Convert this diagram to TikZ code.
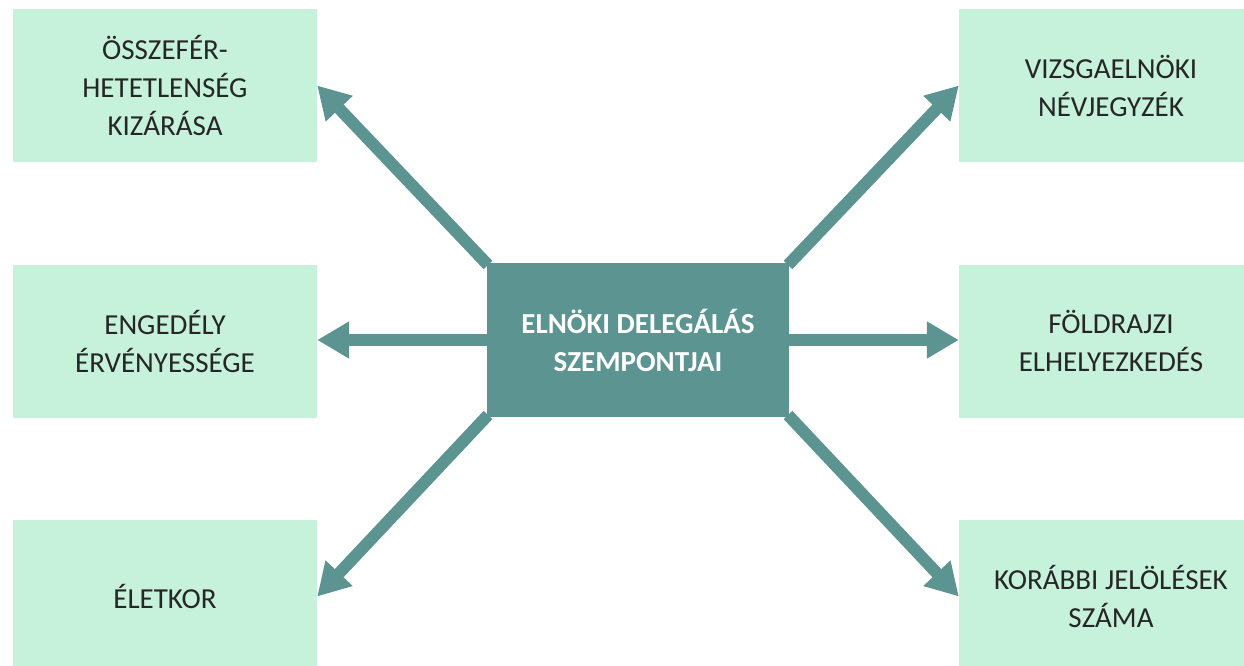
\documentclass[tikz,border=0pt]{standalone}
\usepackage{fontspec}
\setmainfont{Carlito}
\usetikzlibrary{arrows.meta}
\definecolor{teal1}{HTML}{5B9490}
\definecolor{mint}{HTML}{C6F1DB}
\definecolor{txt}{HTML}{262626}
\tikzset{
  leaf/.style={fill=mint, draw=none, minimum width=304pt, minimum height=153pt, inner sep=0pt,
    align=center, text=txt, font=\fontsize{29}{38}\selectfont},
  hub/.style={fill=teal1, draw=none, minimum width=302pt, minimum height=154pt, inner sep=0pt,
    align=center, text=white, font=\bfseries\fontsize{29}{38}\selectfont},
  fat/.style={draw=teal1, line width=12pt, -{Triangle[length=32pt,width=35pt]}}
}
\begin{document}
\begin{tikzpicture}[x=1pt,y=-1pt]
\useasboundingbox (0,0) rectangle (1244,665);
\clip (0,0) rectangle (1244,665);
\node[leaf] (lt) at (165,85.5) {ÖSSZEFÉR-\\HETETLENSÉG\\KIZÁRÁSA};
\node[leaf] (lm) at (165,341) {ENGEDÉLY\\ÉRVÉNYESSÉGE};
\node[leaf] (lb) at (165,596.5) {ÉLETKOR};
\node[leaf] (rt) at (1111,85.5) {VIZSGAELNÖKI\\NÉVJEGYZÉK};
\node[leaf] (rm) at (1111,341) {FÖLDRAJZI\\ELHELYEZKEDÉS};
\node[leaf] (rb) at (1111,596.5) {KORÁBBI JELÖLÉSEK\\SZÁMA};
\coordinate (hnw) at (488,265);
\coordinate (hne) at (788,265);
\coordinate (hsw) at (488,415);
\coordinate (hse) at (788,415);
\coordinate (hw) at (488,340);
\coordinate (he) at (788,340);
\draw[fat] (hnw) -- (lt.east);
\draw[fat] (hne) -- (rt.east -| rt.west);
\draw[fat] (hsw) -- (lb.east);
\draw[fat] (hse) -- (rb.west);
\draw[fat] (hw) -- (lm.east |- hw);
\draw[fat] (he) -- (rm.west |- he);
\node[hub] (hub) at (638,340) {ELNÖKI DELEGÁLÁS\\SZEMPONTJAI};
\end{tikzpicture}
\end{document}
